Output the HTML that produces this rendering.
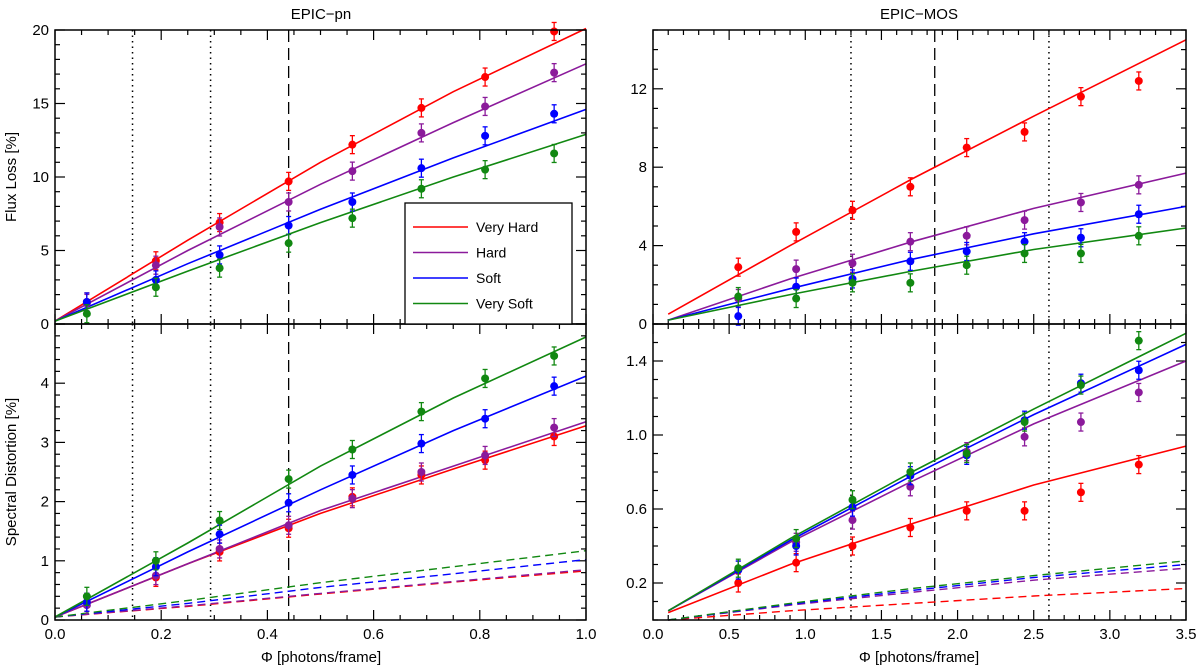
<!DOCTYPE html>
<html><head><meta charset="utf-8">
<style>
html,body{margin:0;padding:0;background:#fff;}
svg{display:block;font-family:"Liberation Sans",sans-serif;}
</style></head>
<body>
<svg id="c" width="1200" height="668" viewBox="0 0 1200 668" xmlns="http://www.w3.org/2000/svg"></svg>
<script>
// ---- data ----
const seriesNames = ["Very Hard","Hard","Soft","Very Soft"];
const seriesColors = ["#ff0000","#8b1a9b","#0000ff","#118811"];
const pnX = [0.06,0.19,0.31,0.44,0.56,0.69,0.81,0.94];
const mosX = [0.56,0.94,1.31,1.69,2.06,2.44,2.81,3.19];
const pnFitX = [0,0.25,0.5,0.75,1.0];
const mosFitX = [0.1,0.9,1.7,2.5,3.5];
// top-left: flux loss EPIC-pn
const pnFluxVH = [1.5,4.3,6.9,9.7,12.2,14.7,16.8,19.9];
const pnFluxH = [1.4,4.0,6.6,8.3,10.4,13.0,14.8,17.1];
const pnFluxS = [1.5,3.0,4.7,6.7,8.3,10.6,12.8,14.3];
const pnFluxVS = [0.7,2.5,3.8,5.5,7.2,9.2,10.5,11.6];
const pnFluxFitVH = [0.2,5.7,11.0,15.8,20.1];
const pnFluxFitH = [0.2,5.0,9.5,13.7,17.7];
const pnFluxFitS = [0.2,4.1,7.8,11.3,14.6];
const pnFluxFitVS = [0.2,3.6,6.9,10.0,12.9];
// bottom-left: spectral distortion EPIC-pn
const pnSpecVH = [0.30,0.72,1.15,1.55,2.08,2.45,2.70,3.10];
const pnSpecH = [0.25,0.75,1.20,1.60,2.05,2.50,2.78,3.25];
const pnSpecS = [0.30,0.90,1.45,1.98,2.45,2.98,3.40,3.95];
const pnSpecVS = [0.40,1.00,1.68,2.38,2.88,3.52,4.08,4.46];
const pnSpecFitVH = [0.05,0.95,1.80,2.55,3.28];
const pnSpecFitH = [0.05,0.95,1.85,2.60,3.35];
const pnSpecFitS = [0.05,1.15,2.20,3.20,4.12];
const pnSpecFitVS = [0.05,1.30,2.60,3.75,4.78];
const pnDashVH = [0.05,0.23,0.44,0.64,0.83];
const pnDashH = [0.05,0.24,0.45,0.65,0.85];
const pnDashS = [0.05,0.28,0.55,0.78,1.02];
const pnDashVS = [0.05,0.33,0.63,0.90,1.17];
// top-right: flux loss EPIC-MOS
const mosFluxVH = [2.9,4.7,5.8,7.0,9.0,9.8,11.6,12.4];
const mosFluxH = [1.3,2.8,3.1,4.2,4.5,5.3,6.2,7.1];
const mosFluxS = [0.4,1.9,2.3,3.2,3.7,4.2,4.4,5.6];
const mosFluxVS = [1.4,1.3,2.1,2.1,3.0,3.6,3.6,4.5];
const mosFluxFitVH = [0.5,4.0,7.4,10.6,14.5];
const mosFluxFitH = [0.2,2.3,4.2,5.9,7.7];
const mosFluxFitS = [0.2,1.8,3.3,4.6,6.0];
const mosFluxFitVS = [0.2,1.5,2.7,3.8,4.9];
// bottom-right: spectral distortion EPIC-MOS
const mosSpecVH = [0.20,0.31,0.40,0.50,0.59,0.59,0.69,0.84];
const mosSpecH = [0.27,0.42,0.54,0.72,0.91,0.99,1.07,1.23];
const mosSpecS = [0.27,0.40,0.61,0.78,0.89,1.08,1.28,1.35];
const mosSpecVS = [0.28,0.44,0.65,0.80,0.90,1.07,1.27,1.51];
const mosSpecFitVH = [0.04,0.30,0.52,0.73,0.94];
const mosSpecFitH = [0.05,0.42,0.75,1.06,1.40];
const mosSpecFitS = [0.05,0.43,0.78,1.11,1.49];
const mosSpecFitVS = [0.05,0.44,0.80,1.14,1.55];
const mosDashVH = [0.0,0.05,0.09,0.13,0.17];
const mosDashH = [0.0,0.08,0.15,0.215,0.28];
const mosDashS = [0.0,0.085,0.16,0.23,0.30];
const mosDashVS = [0.0,0.09,0.17,0.24,0.32];
const pnVLinesDotted = [0.146,0.293];
const pnVLineDashed = [0.44];
const mosVLinesDotted = [1.3,2.6];
const mosVLineDashed = [1.85];
const pnXTicks = ["0.0","0.2","0.4","0.6","0.8","1.0"];
const mosXTicks = ["0.0","0.5","1.0","1.5","2.0","2.5","3.0","3.5"];
const pnFluxTicks = ["0","5","10","15","20"];
const pnSpecTicks = ["0","1","2","3","4"];
const mosFluxTicks = ["0","4","8","12"];
const mosSpecTicks = ["0.2","0.6","1.0","1.4"];

const svg = document.getElementById('c');
const NS = "http://www.w3.org/2000/svg";
function mk(tag, attrs, parent){
  const e = document.createElementNS(NS, tag);
  for (const k in attrs) e.setAttribute(k, attrs[k]);
  (parent||svg).appendChild(e);
  return e;
}

function panel(cfg){
  const g = mk('g', {});
  
  
  const sx = v => cfg.x0 + (v - cfg.xmin)/(cfg.xmax-cfg.xmin)*(cfg.x1-cfg.x0);
  const sy = v => cfg.y1 - (v - cfg.ymin)/(cfg.ymax-cfg.ymin)*(cfg.y1-cfg.y0);
  cfg.dotted.forEach(v=>{
    const l = mk('line',{x1:sx(v),x2:sx(v),y1:cfg.y0,y2:cfg.y1,stroke:'#000','stroke-width':1.5,'stroke-dasharray':'1.5 4'},g);
    
    
  });
  cfg.dashed.forEach(v=>{
    const l = mk('line',{x1:sx(v),x2:sx(v),y1:cfg.y0,y2:cfg.y1,stroke:'#000','stroke-width':1.3,'stroke-dasharray':'12 6'},g);
    
    
  });
  const tk = mk('g',{stroke:'#000','stroke-width':1.2},g);
  
  
  for (let v=cfg.xmin; v<=cfg.xmax+1e-9; v+=cfg.xminor){
    const isMaj = Math.abs(Math.round(v/cfg.xmajor)*cfg.xmajor - v) < 1e-6;
    const L = isMaj?10:5; const x=sx(v);
    mk('line',{x1:x,x2:x,y1:cfg.y1,y2:cfg.y1-L},tk);
    mk('line',{x1:x,x2:x,y1:cfg.y0,y2:cfg.y0+L},tk);
  }
  for (let v=cfg.ymin; v<=cfg.ymax+1e-9; v+=cfg.yminor){
    const isMaj = Math.abs(Math.round((v-cfg.yoff)/cfg.ymajor)*cfg.ymajor+cfg.yoff - v) < 1e-6;
    const L = isMaj?10:5; const y=sy(v);
    mk('line',{x1:cfg.x0,x2:cfg.x0+L,y1:y,y2:y},tk);
    mk('line',{x1:cfg.x1,x2:cfg.x1-L,y1:y,y2:y},tk);
  }
  cfg.yticks.forEach(t=>{
    const tx = mk('text',{x:cfg.x0-6,y:sy(parseFloat(t))+5,'text-anchor':'end','font-size':15},g);
    tx.textContent = t;
    
    
  });
  if (cfg.xticks){
    cfg.xticks.forEach(t=>{
      const tx = mk('text',{x:sx(parseFloat(t)),y:cfg.y1+19,'text-anchor':'middle','font-size':15},g);
      tx.textContent = t;
      
      
    });
  }
  const path = (xs, ys) => xs.map((x,i)=>(i?'L':'M')+sx(x).toFixed(1)+' '+sy(ys[i]).toFixed(1)).join(' ');
  if (cfg.dashes) cfg.dashes.forEach((ys,i)=>{
    const p = mk('path',{d:path(cfg.fitX,ys),fill:'none',stroke:seriesColors[i],'stroke-width':1.4,'stroke-dasharray':'8 5'},g);
    
    
  });
  cfg.fits.forEach((ys,i)=>{
    const p = mk('path',{d:path(cfg.fitX,ys),fill:'none',stroke:seriesColors[i],'stroke-width':1.6},g);
    
    
  });
  cfg.pts.forEach((ys,i)=>{
    const pg = mk('g',{fill:seriesColors[i],stroke:seriesColors[i]},g);
    
    
    ys.forEach((v,j)=>{
      const x=sx(cfg.ptX[j]), y=sy(v);
      mk('line',{x1:x,x2:x,y1:y-9,y2:y+9,'stroke-width':1.3},pg);
      mk('line',{x1:x-2.5,x2:x+2.5,y1:y-9,y2:y-9,'stroke-width':1.3},pg);
      mk('line',{x1:x-2.5,x2:x+2.5,y1:y+9,y2:y+9,'stroke-width':1.3},pg);
      const c = mk('circle',{cx:x,cy:y,r:4,stroke:'none'},pg);
      
      
    });
  });
  const fr = mk('rect',{x:cfg.x0,y:cfg.y0,width:cfg.x1-cfg.x0,height:cfg.y1-cfg.y0,fill:'none',stroke:'#000','stroke-width':1.5},g);
  
  
  return {sx,sy,g};
}

panel({name:'pn-flux-panel',x0:55,x1:586,y0:30,y1:324,xmin:0,xmax:1,ymin:0,ymax:20,xminor:0.05,xmajor:0.2,yminor:1,ymajor:5,yoff:0,
  yticks:pnFluxTicks,xticks:null,dotted:pnVLinesDotted,dashed:pnVLineDashed,fitX:pnFitX,ptX:pnX,
  fits:[pnFluxFitVH,pnFluxFitH,pnFluxFitS,pnFluxFitVS],pts:[pnFluxVH,pnFluxH,pnFluxS,pnFluxVS]});
panel({name:'pn-spectral-panel',x0:55,x1:586,y0:324,y1:620,xmin:0,xmax:1,ymin:0,ymax:5,xminor:0.05,xmajor:0.2,yminor:0.2,ymajor:1,yoff:0,
  yticks:pnSpecTicks,xticks:pnXTicks,dotted:pnVLinesDotted,dashed:pnVLineDashed,fitX:pnFitX,ptX:pnX,
  dashes:[pnDashVH,pnDashH,pnDashS,pnDashVS],
  fits:[pnSpecFitVH,pnSpecFitH,pnSpecFitS,pnSpecFitVS],pts:[pnSpecVH,pnSpecH,pnSpecS,pnSpecVS]});
panel({name:'mos-flux-panel',x0:653,x1:1186,y0:30,y1:324,xmin:0,xmax:3.5,ymin:0,ymax:15,xminor:0.1,xmajor:0.5,yminor:1,ymajor:4,yoff:0,
  yticks:mosFluxTicks,xticks:null,dotted:mosVLinesDotted,dashed:mosVLineDashed,fitX:mosFitX,ptX:mosX,
  fits:[mosFluxFitVH,mosFluxFitH,mosFluxFitS,mosFluxFitVS],pts:[mosFluxVH,mosFluxH,mosFluxS,mosFluxVS]});
panel({name:'mos-spectral-panel',x0:653,x1:1186,y0:324,y1:620,xmin:0,xmax:3.5,ymin:0,ymax:1.6,xminor:0.1,xmajor:0.5,yminor:0.1,ymajor:0.4,yoff:0.2,
  yticks:mosSpecTicks,xticks:mosXTicks,dotted:mosVLinesDotted,dashed:mosVLineDashed,fitX:mosFitX,ptX:mosX,
  dashes:[mosDashVH,mosDashH,mosDashS,mosDashVS],
  fits:[mosSpecFitVH,mosSpecFitH,mosSpecFitS,mosSpecFitVS],pts:[mosSpecVH,mosSpecH,mosSpecS,mosSpecVS]});

function txt(x,y,s,name,extra){
  const t = mk('text',Object.assign({x:x,y:y,'text-anchor':'middle','font-size':15},extra||{}));
  t.textContent = s;
  
  
  return t;
}
txt(321,19,'EPIC\u2212pn','title-epic-pn');
txt(919,19,'EPIC\u2212MOS','title-epic-mos');
txt(321,662,'\u03A6 [photons/frame]','x-axis-title-pn');
txt(919,662,'\u03A6 [photons/frame]','x-axis-title-mos');
txt(0,0,'Flux Loss [%]','y-axis-title-flux',{transform:'translate(16,177) rotate(-90)'});
txt(0,0,'Spectral Distortion [%]','y-axis-title-spectral',{transform:'translate(16,472) rotate(-90)'});

const lg = mk('g',{});


mk('rect',{x:405,y:203,width:167,height:121,fill:'#fff',stroke:'#000','stroke-width':1.3},lg);
seriesNames.forEach((n,i)=>{
  const y = 227 + i*25.5;
  const e = mk('g',{},lg);
  
  
  mk('line',{x1:413,x2:468,y1:y,y2:y,stroke:seriesColors[i],'stroke-width':1.6},e);
  const t = mk('text',{x:476,y:y+5,'font-size':14},e);
  t.textContent = n;
});
</script>
</body></html>
